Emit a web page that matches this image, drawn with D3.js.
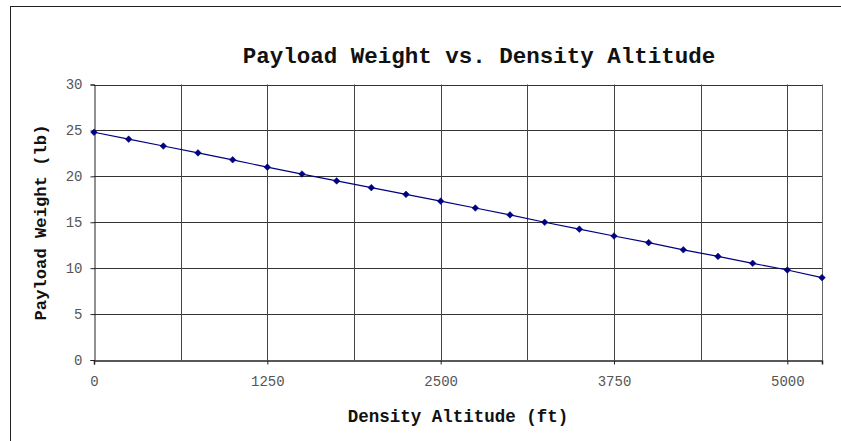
<!DOCTYPE html>
<html>
<head>
<meta charset="utf-8">
<script src="https://cdn.jsdelivr.net/npm/d3@7"></script>
<style>
  html, body { margin: 0; padding: 0; background: #fff; }
  svg { display: block; }
  text { font-family: "Liberation Mono", "Courier New", monospace; }
</style>
</head>
<body>
<div id="chart"></div>
<script>
// ---- data ----
const altitudes = [0, 250, 500, 750, 1000, 1250, 1500, 1750, 2000, 2250, 2500,
                   2750, 3000, 3250, 3500, 3750, 4000, 4250, 4500, 4750, 5000, 5250];
const payload = [24.8, 24.05, 23.3, 22.55, 21.8, 21.0, 20.25, 19.5, 18.77, 18.04, 17.3,
                 16.55, 15.8, 15.0, 14.25, 13.5, 12.78, 12.0, 11.28, 10.53, 9.8, 8.97];
const xTickLabels = [0, 1250, 2500, 3750, 5000];
const xGridValues = [625, 1250, 1875, 2500, 3125, 3750, 4375, 5000];
const yTickLabels = [0, 5, 10, 15, 20, 25, 30];
const titleText = "Payload Weight vs. Density Altitude";
const xTitle = "Density Altitude (ft)";
const yTitle = "Payload Weight (lb)";

const W = 841, H = 441;
const plot = { left: 94, right: 822, top: 84.5, bottom: 360 };

const svg = d3.select("#chart").append("svg").attr("width", W).attr("height", H);

// outer chart border
svg.append("rect")
  .attr("x", 10.5).attr("y", 6.5).attr("width", 900).attr("height", 500)
  .attr("fill", "#fff").attr("stroke", "#222").attr("stroke-width", 1);

const x = d3.scaleLinear().domain([0, 5250]).range([plot.left, plot.right]);
const y = d3.scaleLinear().domain([0, 30]).range([plot.bottom, plot.top]);

const crisp = v => Math.round(v) + 0.5;

// horizontal gridlines
svg.append("g").selectAll("line").data(yTickLabels.filter(d => d > 0)).join("line")
  .attr("x1", plot.left).attr("x2", plot.right)
  .attr("y1", d => crisp(y(d))).attr("y2", d => crisp(y(d)))
  .attr("stroke", "#333").attr("stroke-width", 1);

// vertical gridlines
svg.append("g").selectAll("line").data(xGridValues).join("line")
  .attr("x1", d => crisp(x(d))).attr("x2", d => crisp(x(d)))
  .attr("y1", plot.top).attr("y2", plot.bottom)
  .attr("stroke", "#444").attr("stroke-width", 1);

// right border of plot area
svg.append("line")
  .attr("x1", crisp(plot.right)).attr("x2", crisp(plot.right))
  .attr("y1", plot.top).attr("y2", plot.bottom)
  .attr("stroke", "#666").attr("stroke-width", 1);

// axes
const yAxis = d3.axisLeft(y).tickValues(yTickLabels).tickSize(4).tickPadding(8).tickFormat(d3.format("d"));
const gy = svg.append("g").attr("transform", `translate(${crisp(plot.left)},0)`).call(yAxis);
gy.select(".domain").attr("stroke", "#222");
gy.selectAll(".tick line").attr("stroke", "#222");
gy.selectAll(".tick text")
  .attr("fill", "#555").style("font-size", "14px")
  .style("font-family", "'Liberation Mono', 'Courier New', monospace");

const xAxis = d3.axisBottom(x).tickValues(xTickLabels).tickSize(4).tickPadding(12).tickFormat(d3.format("d"));
const gx = svg.append("g").attr("transform", `translate(0,${crisp(plot.bottom)})`).call(xAxis);
gx.select(".domain").attr("stroke", "#222").attr("stroke-width", 1.5);
gx.selectAll(".tick line").attr("stroke", "#222");
gx.selectAll(".tick text")
  .attr("fill", "#555").style("font-size", "14px")
  .style("font-family", "'Liberation Mono', 'Courier New', monospace");

// data line
const pts = altitudes.map((a, i) => [a, payload[i]]);
svg.append("path")
  .datum(pts)
  .attr("fill", "none").attr("stroke", "#000080").attr("stroke-width", 1.2)
  .attr("d", d3.line().x(d => x(d[0])).y(d => y(d[1])));

// diamond markers (square rotated 45deg)
const marker = d3.symbol().type(d3.symbolSquare).size(22);
svg.append("g").selectAll("path").data(pts).join("path")
  .attr("transform", d => `translate(${x(d[0])},${y(d[1])}) rotate(45)`)
  .attr("d", marker)
  .attr("fill", "#000080").attr("stroke", "#000080").attr("stroke-width", 0.5);

// titles
svg.append("text")
  .attr("x", 479).attr("y", 63)
  .attr("text-anchor", "middle")
  .style("font-size", "22.5px").style("font-weight", "bold").attr("fill", "#111")
  .text(titleText);

svg.append("text")
  .attr("x", (plot.left + plot.right) / 2).attr("y", 422)
  .attr("text-anchor", "middle")
  .style("font-size", "17.5px").style("font-weight", "bold").attr("fill", "#111")
  .text(xTitle);

svg.append("text")
  .attr("transform", `translate(46,222.5) rotate(-90)`)
  .attr("text-anchor", "middle")
  .style("font-size", "17.2px").style("font-weight", "bold").attr("fill", "#111")
  .text(yTitle);
</script>
</body>
</html>
